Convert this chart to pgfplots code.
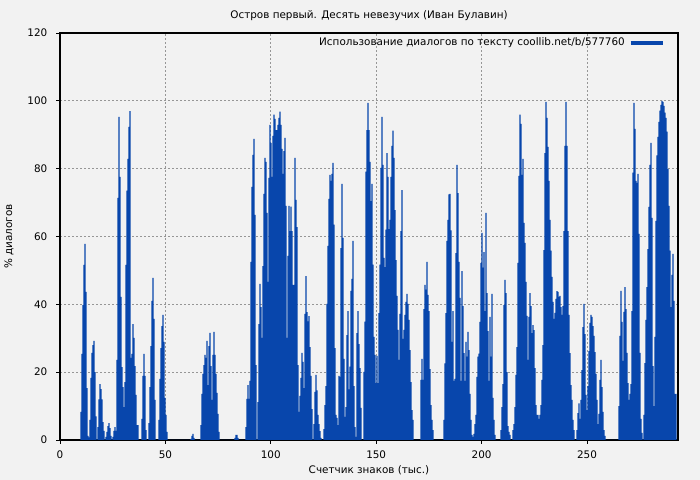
\documentclass[border=0pt]{standalone}
\usepackage{fontspec}
\setmainfont{DejaVu Sans}
\usepackage{pgfplots}
\usepackage{pgfplotstable}
\pgfplotsset{compat=1.18}
\definecolor{bg}{RGB}{242,242,242}
\definecolor{barblue}{RGB}{8,70,172}
\definecolor{gridgray}{RGB}{150,150,150}

\pgfplotstableread[row sep=\\]{
y\\
8.3\\ 25.4\\ 39.8\\ 51.6\\ 57.8\\ 43.7\\ 15.3\\ 1.2\\ 0.8\\ 5.9\\
18.3\\ 25.7\\ 28\\ 29.2\\ 20\\ 7\\ 0\\ 3.8\\ 12\\ 16.5\\
15\\ 12\\ 5.3\\ 2.7\\ 0\\ 0.9\\ 2.4\\ 4.1\\ 5\\ 3.5\\
1.2\\ 0\\ 0.9\\ 2.7\\ 3.8\\ 2.7\\ 23.6\\ 71.4\\ 95.3\\ 77.6\\
42.2\\ 21.5\\ 15.6\\ 9.7\\ 17.1\\ 51.6\\ 73.5\\ 82.9\\ 92.3\\ 97\\
24.2\\ 25.4\\ 34.2\\ 30.1\\ 21.8\\ 13.3\\ 4.4\\ 4.4\\ 0\\ 0\\
0\\ 6.2\\ 18.9\\ 25.4\\ 18.9\\ 2.9\\ 0\\ 0\\ 5\\ 15.6\\
27.7\\ 41\\ 47.8\\ 35.7\\ 11.8\\ 0\\ 0\\ 0\\ 5.9\\ 18\\
27.1\\ 33.6\\ 36.9\\ 28.9\\ 12.4\\ 7.4\\ 2.4\\ 0\\ 0\\ 0\\
0\\ 0\\ 0\\ 0\\ 0\\ 0\\ 0\\ 0\\ 0\\ 0\\
0\\ 0\\ 0\\ 0\\ 0\\ 0\\ 0\\ 0\\ 0\\ 0\\
0.3\\ 1.2\\ 1.8\\ 0.6\\ 0\\ 0\\ 0\\ 0\\ 0\\ 0\\
4.4\\ 13.6\\ 19.5\\ 22.1\\ 25.1\\ 24.2\\ 29.2\\ 16.2\\ 27.7\\ 31.6\\
21.8\\ 11.8\\ 25.1\\ 31.9\\ 25.1\\ 19.5\\ 13.9\\ 7.7\\ 2.4\\ 0\\
0\\ 0\\ 0\\ 0\\ 0\\ 0\\ 0\\ 0\\ 0\\ 0\\
0\\ 0\\ 0\\ 0\\ 0.6\\ 1.5\\ 1.5\\ 0.6\\ 0\\ 0\\
0\\ 0\\ 0\\ 0\\ 0\\ 3.8\\ 12.1\\ 16.2\\ 12.1\\ 17.4\\
52.5\\ 74.6\\ 84.1\\ 88.8\\ 66.4\\ 22.1\\ 0\\ 11.2\\ 34.2\\ 46\\
39.2\\ 30.1\\ 51.3\\ 72.6\\ 83.2\\ 82\\ 67\\ 46.6\\ 77.3\\ 92.9\\
87.6\\ 77.6\\ 89.7\\ 95.9\\ 94.7\\ 91.4\\ 91.4\\ 92.9\\ 95\\ 96.8\\
92.9\\ 85.8\\ 78.5\\ 85.2\\ 89.1\\ 69\\ 30.1\\ 54.3\\ 69\\ 61.6\\
68.8\\ 61.6\\ 45.7\\ 45.7\\ 83.2\\ 70.8\\ 62.8\\ 22.1\\ 8.3\\ 13\\
18.3\\ 25.7\\ 23\\ 15.3\\ 37.2\\ 48.3\\ 37.7\\ 35\\ 36.5\\ 27.4\\
18.9\\ 9.1\\ 0\\ 4.7\\ 14.2\\ 19.2\\ 14.6\\ 7.4\\ 4.7\\ 2.6\\
0.6\\ 0\\ 0\\ 3.2\\ 10.3\\ 15.9\\ 40.1\\ 57.2\\ 71.1\\ 78.2\\
76.4\\ 78.5\\ 81.7\\ 63.5\\ 27.1\\ 7.4\\ 6.5\\ 4.4\\ 18.9\\ 18.6\\
56.6\\ 75.5\\ 59.6\\ 23.9\\ 6.8\\ 9.7\\ 30.9\\ 38\\ 14.9\\ 21.6\\
44\\ 47.5\\ 58.7\\ 15.9\\ 3.8\\ 0.9\\ 31.5\\ 38\\ 28.3\\ 21.2\\
9.5\\ 0\\ 0\\ 20.1\\ 34.9\\ 79.1\\ 91.4\\ 99.4\\ 91.4\\ 82\\
70.4\\ 75.5\\ 51.7\\ 30.4\\ 25.1\\ 16.8\\ 24.8\\ 16.8\\ 37.4\\ 51.7\\
80.2\\ 95.3\\ 81.1\\ 53.7\\ 51\\ 62\\ 84.6\\ 77.6\\ 62.2\\ 64.9\\
77.6\\ 86.7\\ 91.2\\ 83.2\\ 67.8\\ 53\\ 42.5\\ 32.5\\ 23.6\\ 37.2\\
61.6\\ 73.7\\ 29.8\\ 32.5\\ 36.9\\ 40.7\\ 43.1\\ 40.1\\ 35.4\\ 26.5\\
17.1\\ 8.8\\ 5.9\\ 0\\ 0\\ 0\\ 0\\ 0\\ 0\\ 0\\
17.7\\ 23.9\\ 17.7\\ 38.6\\ 45.7\\ 44.3\\ 52.5\\ 42.8\\ 38\\ 20.9\\
10.3\\ 5.9\\ 2.9\\ 0\\ 0\\ 0\\ 0\\ 0\\ 0\\ 0\\
0\\ 0\\ 0\\ 5.9\\ 22.6\\ 37.4\\ 58.7\\ 64.9\\ 72.4\\ 72.6\\
61.8\\ 28.9\\ 38\\ 17.4\\ 18\\ 55.1\\ 81.1\\ 72.8\\ 52.5\\ 41.9\\
17.4\\ 49.8\\ 39.5\\ 25.6\\ 17.4\\ 28.9\\ 24.6\\ 31.9\\ 26.5\\ 13.6\\
5.9\\ 1.5\\ 0.9\\ 1.8\\ 4.7\\ 7.4\\ 18.6\\ 24.6\\ 25.5\\ 34.8\\
52.2\\ 61.1\\ 50.8\\ 55.4\\ 38\\ 67\\ 43.3\\ 32.1\\ 17.4\\ 36.3\\
24.6\\ 43.1\\ 12.4\\ 5.9\\ 1.5\\ 0\\ 0\\ 0\\ 0\\ 0\\
2.9\\ 9.7\\ 16.5\\ 39.8\\ 47.2\\ 43.3\\ 20\\ 4.1\\ 2.4\\ 1.5\\
0\\ 0\\ 2.9\\ 4.7\\ 9.7\\ 19.2\\ 27.4\\ 52.2\\ 77.9\\ 95.9\\
93.2\\ 78.2\\ 82.9\\ 64\\ 58.1\\ 46.6\\ 36.6\\ 23.6\\ 36.3\\ 43.3\\
39.5\\ 31.5\\ 33.9\\ 32.4\\ 21.2\\ 10.3\\ 7.4\\ 7.4\\ 6.2\\ 7.4\\
10.3\\ 17.7\\ 28\\ 56\\ 84.6\\ 99.7\\ 95\\ 86.4\\ 76.4\\ 64.9\\
55.8\\ 48.1\\ 40.7\\ 35.7\\ 37.5\\ 41.6\\ 43.9\\ 43.7\\ 42.2\\ 42.5\\
39.2\\ 36.9\\ 39.5\\ 61.6\\ 86.7\\ 99.7\\ 86.7\\ 61.6\\ 36.9\\ 25.6\\
16.2\\ 11.8\\ 5.9\\ 2.9\\ 0\\ 0\\ 2.9\\ 7.9\\ 10.8\\ 6.2\\
11.8\\ 20.6\\ 33.3\\ 40.1\\ 31.2\\ 13.3\\ 8.8\\ 15.9\\ 26.2\\ 34.5\\
36.9\\ 36.3\\ 33.6\\ 30.7\\ 25.9\\ 19.5\\ 11.8\\ 4.7\\ 7.7\\ 17.7\\
23.6\\ 15.6\\ 8.3\\ 2.9\\ 1.2\\ 0\\ 0\\ 0\\ 0\\ 0\\
0\\ 0\\ 0\\ 0\\ 0\\ 0\\ 0\\ 0\\ 10\\ 30.7\\
44\\ 34.8\\ 23.3\\ 37.8\\ 45.1\\ 38.6\\ 25.7\\ 16.8\\ 11.8\\ 13.6\\
16.5\\ 38\\ 78.8\\ 99.4\\ 91.7\\ 76.4\\ 75.8\\ 78.5\\ 60.8\\ 25.7\\
6.2\\ 2.1\\ 0\\ 7.4\\ 22.7\\ 35.4\\ 45.1\\ 56.3\\ 68.7\\ 81.1\\
87.6\\ 65.5\\ 21.8\\ 10\\ 30.4\\ 64.6\\ 83.9\\ 89.4\\ 93.8\\ 97.1\\
98.8\\ 100\\ 99.7\\ 98.5\\ 96.5\\ 95\\ 90.9\\ 79.9\\ 69\\ 55.8\\
39.2\\ 48.7\\ 54.9\\ 41\\ 13.6\\ 13.6\\
}\datatable

\begin{document}
\begin{tikzpicture}[font=\fontsize{7.8}{9}\selectfont]
\fill[bg] (-45pt,-30pt) rectangle (480pt,330pt);
\begin{axis}[
  at={(0,0)}, anchor=south west,
  scale only axis, width=463.5pt, height=305.25pt,
  xmin=0, xmax=293.2, ymin=0, ymax=120,
  axis background/.style={fill=bg},
  axis line style={black, line width=0.9pt},
  tick align=outside, tick pos=left,
  major tick length=3pt,
  tick style={black, line width=0.6pt},
  xtick={0,50,100,150,200,250},
  ytick={0,20,40,60,80,100,120},
  /pgf/number format/assume math mode=true,
  xticklabel style={yshift=-1.5pt},
  yticklabel style={xshift=-3pt},
  grid=major,
  major grid style={gridgray, dash pattern=on 1.5pt off 1.5pt, line width=0.6pt},
  title={Остров первый. Десять невезучих (Иван Булавин)},
  title style={at={(axis description cs:0.5,1)}, anchor=center, yshift=6.75pt},
  xlabel={Счетчик знаков (тыс.)},
  xlabel style={at={(axis description cs:0.5,0)}, anchor=center, yshift=-22.5pt},
  ylabel={\% диалогов},
  ylabel style={at={(axis description cs:0,0.5)}, anchor=center, yshift=38.25pt},
  legend plot pos=right,
  legend cell align=right,
  legend style={draw=none, fill=none, at={(axis description cs:1,1)}, anchor=east,
    xshift=-9.75pt, yshift=-7.5pt, inner sep=0pt, nodes={inner xsep=3pt, inner ysep=0pt}},
  legend image code/.code={\draw[barblue, line width=3pt] (0pt,0pt) -- (24pt,0pt);},
]
\addplot[ybar, bar width=0.6, fill=barblue, draw=none]
  table[x expr=\coordindex*0.4744+9.962, y=y] {\datatable};
\addlegendentry{Использование диалогов по тексту coollib.net/b/577760}
\end{axis}
\end{tikzpicture}
\end{document}
